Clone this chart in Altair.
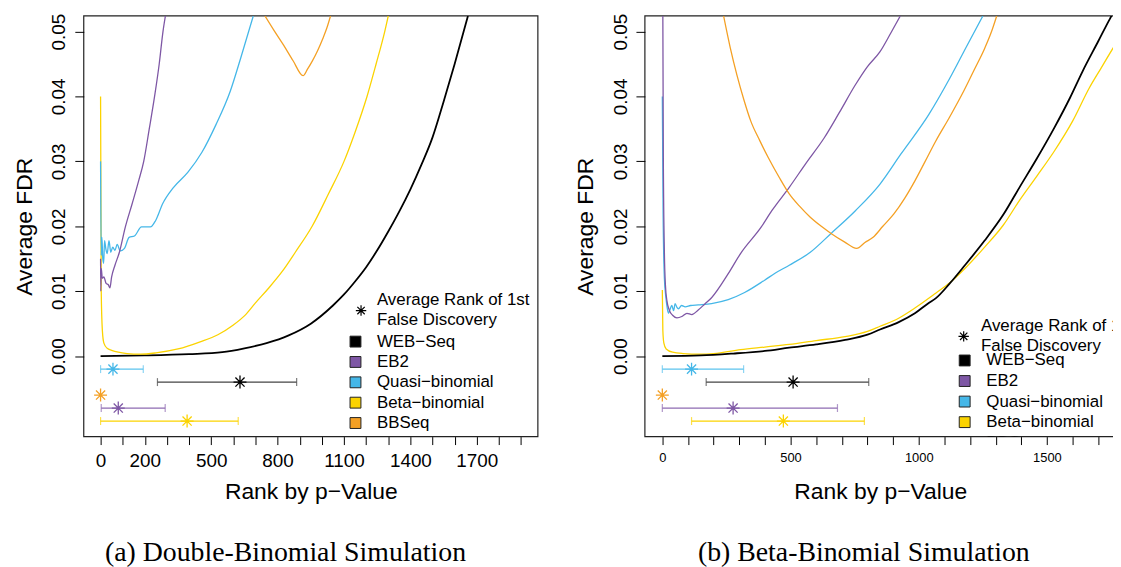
import altair as alt
import pandas as pd

FONT = "Liberation Sans"
SERIF = "Liberation Serif"

methods = ["WEB−Seq", "EB2", "Quasi−binomial", "Beta−binomial", "BBSeq"]
colors = ["#000000", "#7E57A5", "#45B7E8", "#FBD300", "#F4A024"]
bar_colors = ["#444444", "#8E6BB2", "#5BC3EE", "#FBD300", "#F4A024"]

# ---------------- panel (a): Double-Binomial Simulation ----------------
a_web_x = [0, 200, 400, 550, 650, 750, 850, 950, 1050, 1100, 1150, 1200, 1250, 1300, 1350, 1400, 1450, 1500, 1550, 1600, 1660]
a_web_y = [0, 0.0001, 0.0003, 0.0006, 0.0012, 0.0020, 0.0032, 0.0050, 0.0078, 0.0095, 0.0115, 0.0137, 0.0163, 0.0192, 0.0223, 0.0257, 0.0295, 0.0337, 0.0392, 0.0450, 0.0524]
a_eb2_x = [0, 1, 3, 8, 15, 25, 35, 42, 50, 65, 85, 112, 142, 172, 195, 220, 244, 265, 282, 293]
a_eb2_y = [0.015, 0.010, 0.0135, 0.0120, 0.0122, 0.0112, 0.0110, 0.0105, 0.0122, 0.0140, 0.0160, 0.0199, 0.0234, 0.0270, 0.0300, 0.0350, 0.0400, 0.0450, 0.0500, 0.0524]
a_qb_x = [0, 3, 6, 10, 14, 18, 24, 30, 38, 46, 55, 65, 75, 89, 108, 129, 153, 185, 225, 249, 281, 330, 394, 458, 522, 586, 634, 690]
a_qb_y = [0.030, 0.0155, 0.0183, 0.0150, 0.0143, 0.0178, 0.0165, 0.0158, 0.0178, 0.0160, 0.0168, 0.0163, 0.0172, 0.0162, 0.0166, 0.0183, 0.0185, 0.0199, 0.0199, 0.0209, 0.0235, 0.0260, 0.0283, 0.0314, 0.0357, 0.0408, 0.0460, 0.0524]
a_bb_x = [0, 3, 8, 15, 30, 50, 80, 120, 180, 250, 350, 450, 530, 600, 650, 700, 760, 820, 880, 956, 1030, 1100, 1150, 1204, 1245, 1284, 1300]
a_bb_y = [0.040, 0.010, 0.004, 0.002, 0.0012, 0.0009, 0.0006, 0.0004, 0.0003, 0.0005, 0.0011, 0.0022, 0.0033, 0.0048, 0.0062, 0.0082, 0.0105, 0.0130, 0.0160, 0.0200, 0.0250, 0.0300, 0.0345, 0.0400, 0.0450, 0.0500, 0.0524]
a_bbseq_x = [743, 785, 827, 870, 915, 935, 956, 980, 1004, 1022, 1039]
a_bbseq_y = [0.0524, 0.0501, 0.0479, 0.0455, 0.0432, 0.0442, 0.0454, 0.0470, 0.0489, 0.0505, 0.0524]

# error-bar rows (order of rows top to bottom)
row_methods = ["Quasi−binomial", "WEB−Seq", "BBSeq", "EB2", "Beta−binomial"]
row_y = [-0.002, -0.004, -0.006, -0.008, -0.010]
a_star = [56, 630, 0, 80, 391]
a_lo = [0, 257, 0, 3, 0]
a_hi = [193, 886, 0, 292, 622]

# ---------------- panel (b): Beta-Binomial Simulation ----------------
b_web_x = [0, 150, 277, 400, 495, 600, 713, 800, 849, 920, 985, 1039, 1066, 1121, 1180, 1257, 1330, 1393, 1460, 1529, 1590, 1638, 1700, 1746, 1768]
b_web_y = [0, 0.0001, 0.0004, 0.0008, 0.0013, 0.0018, 0.0025, 0.0033, 0.0041, 0.0052, 0.0066, 0.0082, 0.0089, 0.0112, 0.0140, 0.0178, 0.0218, 0.0260, 0.0304, 0.0352, 0.0398, 0.0438, 0.0485, 0.0520, 0.0535]
b_eb2_x = [2, 4, 8, 12, 18, 28, 40, 57, 76, 96, 115, 140, 165, 192, 257, 305, 386, 427, 495, 560, 631, 690, 753, 800, 849, 890, 928]
b_eb2_y = [0.0524, 0.030, 0.016, 0.011, 0.0085, 0.0070, 0.0063, 0.0059, 0.0061, 0.0066, 0.0064, 0.0071, 0.0080, 0.0090, 0.0127, 0.0158, 0.0199, 0.0224, 0.0260, 0.0297, 0.0336, 0.0375, 0.0418, 0.0446, 0.0469, 0.0497, 0.0524]
b_qb_x = [0, 3, 8, 14, 20, 24, 30, 37, 44, 50, 57, 63, 75, 89, 110, 140, 192, 257, 321, 399, 441, 495, 577, 658, 753, 849, 930, 1039, 1121, 1189, 1250]
b_qb_y = [0.040, 0.022, 0.012, 0.009, 0.0072, 0.0066, 0.0072, 0.0078, 0.0070, 0.0081, 0.0075, 0.0073, 0.0078, 0.0076, 0.0078, 0.0079, 0.0081, 0.0087, 0.0098, 0.0117, 0.0128, 0.0140, 0.0160, 0.0189, 0.0224, 0.0265, 0.0311, 0.0372, 0.0428, 0.0479, 0.0524]
b_bb_x = [0, 2, 6, 15, 40, 80, 150, 200, 305, 400, 495, 600, 713, 800, 849, 920, 985, 1039, 1066, 1121, 1180, 1257, 1330, 1393, 1460, 1529, 1600, 1665, 1710, 1757, 1790]
b_bb_y = [0.0102, 0.004, 0.002, 0.0011, 0.0006, 0.0004, 0.0003, 0.0004, 0.0010, 0.0014, 0.0018, 0.0024, 0.0030, 0.0038, 0.0046, 0.0058, 0.0074, 0.0089, 0.0097, 0.0113, 0.0135, 0.0168, 0.0202, 0.0240, 0.0277, 0.0316, 0.0362, 0.0413, 0.0443, 0.0474, 0.0495]
b_bbseq_x = [239, 265, 291, 318, 345, 380, 413, 455, 495, 535, 577, 620, 658, 710, 758, 790, 822, 860, 903, 945, 985, 1025, 1066, 1120, 1175, 1215, 1257, 1282, 1304]
b_bbseq_y = [0.0524, 0.0475, 0.0433, 0.0395, 0.0362, 0.0332, 0.0306, 0.0276, 0.0250, 0.0231, 0.0214, 0.0200, 0.0189, 0.0176, 0.0166, 0.0175, 0.0183, 0.0200, 0.0219, 0.0243, 0.0270, 0.0300, 0.0331, 0.0368, 0.0408, 0.0440, 0.0474, 0.0498, 0.0524]

b_star = [114, 510, 0, 276, 472]
b_lo = [0, 171, 0, 0, 114]
b_hi = [317, 805, 0, 683, 788]

# ---------------- layout constants (pixels) ----------------
PLOT_W_A = 457.4
PLOT_H = 423.7
RIGHT_X0 = 565.2
RIGHT_W = 474.2
W = 1036.7
YDOM = [-0.0124, 0.0524]
STAR = "M-1,0L1,0M0,-1L0,1M-0.707,-0.707L0.707,0.707M-0.707,0.707L0.707,-0.707"
cscale = alt.Scale(domain=methods, range=colors)
bscale = alt.Scale(domain=methods, range=bar_colors)


def lines_df(series):
    rows = []
    for m, xs, ys in series:
        for i, (x, y) in enumerate(zip(xs, ys)):
            rows.append({"method": m, "x": x, "y": y, "i": i})
    return pd.DataFrame(rows)


def panel(series, star, lo, hi, xdom, xrng, xticks, xlabels, xlab_size,
          yoffset, leg, caption, cap_x, clip_legend):
    xs = alt.Scale(domain=xdom, range=xrng, nice=False, zero=False)
    ys = alt.Scale(domain=YDOM, nice=False, zero=False)
    left = xrng[0]
    mid = (xrng[0] + xrng[1]) / 2
    lab_expr = "indexof(" + str(xlabels) + ", datum.value) >= 0 ? datum.label : ''"
    xaxis = alt.Axis(orient="bottom", values=xticks, labelExpr=lab_expr, format="d", domain=False, grid=False,
                     tickSize=8, tickColor="black", zindex=1,
                     labelFont=FONT, labelFontSize=xlab_size, labelColor="black", labelPadding=7,
                     labelOverlap=False,
                     title="Rank by p−Value", titleFont=FONT, titleFontSize=23, titleFontWeight="normal",
                     titleColor="black", titleX=mid, titleY=62, titleAlign="center", titleBaseline="alphabetic")
    yaxis = alt.Axis(orient="left", offset=yoffset, values=[0, 0.01, 0.02, 0.03, 0.04, 0.05], format=".2f",
                     domain=False, grid=False, tickSize=9, tickColor="black", zindex=1,
                     labelAngle=270, labelAlign="center", labelBaseline="alphabetic", labelPadding=10,
                     labelFont=FONT, labelFontSize=19, labelColor="black", labelOverlap=False,
                     title="Average FDR", titleFont=FONT, titleFontSize=23, titleFontWeight="normal",
                     titleColor="black", titleAngle=270, titleX=-53, titleY=PLOT_H / 2,
                     titleAlign="center", titleBaseline="alphabetic")

    ldf = lines_df(series)
    lines = alt.Chart(ldf).mark_line(clip=True, interpolate="monotone").encode(
        x=alt.X("x:Q", scale=xs, axis=xaxis),
        y=alt.Y("y:Q", scale=ys, axis=yaxis),
        color=alt.Color("method:N", scale=cscale, legend=None),
        detail="method:N",
        order="i:Q",
        strokeWidth=alt.condition(alt.datum.method == "WEB−Seq", alt.value(1.8), alt.value(1.3)),
    )

    bdf = pd.DataFrame({"method": row_methods, "row": row_y, "star": star, "lo": lo, "hi": hi})
    base_b = alt.Chart(bdf)
    bars = base_b.transform_filter("datum.hi > datum.lo").mark_rule(strokeWidth=1.2).encode(
        x=alt.X("lo:Q", scale=xs, axis=None), x2="hi:Q",
        y=alt.Y("row:Q", scale=ys, axis=None),
        color=alt.Color("method:N", scale=bscale, legend=None))
    cap_lo = base_b.transform_filter("datum.hi > datum.lo").mark_tick(orient="vertical", size=8, thickness=1.2).encode(
        x=alt.X("lo:Q", scale=xs, axis=None), y=alt.Y("row:Q", scale=ys, axis=None),
        color=alt.Color("method:N", scale=bscale, legend=None))
    cap_hi = base_b.transform_filter("datum.hi > datum.lo").mark_tick(orient="vertical", size=8, thickness=1.2).encode(
        x=alt.X("hi:Q", scale=xs, axis=None), y=alt.Y("row:Q", scale=ys, axis=None),
        color=alt.Color("method:N", scale=bscale, legend=None))
    stars = base_b.mark_point(shape=STAR, size=170, filled=False, strokeWidth=1.3, opacity=1).encode(
        x=alt.X("star:Q", scale=xs, axis=None), y=alt.Y("row:Q", scale=ys, axis=None),
        color=alt.Color("method:N", scale=cscale, legend=None))

    one = pd.DataFrame({"k": [0]})
    box = alt.Chart(one).mark_rect(filled=False, stroke="#222", strokeWidth=1.2).encode(
        x=alt.value(left), x2=alt.value(xrng[1]), y=alt.value(0), y2=alt.value(PLOT_H))

    # legend drawn inside the plot as in the original
    sx, sy, tx, t1, t2, qx, qy0, dy, itx = leg
    leg_star = alt.Chart(one).mark_point(shape=STAR, size=110, filled=False, strokeWidth=1.2,
                                         color="black", opacity=1).encode(
        x=alt.value(sx), y=alt.value(sy))
    leg_t1 = alt.Chart(one).mark_text(text="Average Rank of 1st", font=FONT, fontSize=17, align="left",
                                      baseline="middle", color="black").encode(x=alt.value(tx), y=alt.value(t1))
    leg_t2 = alt.Chart(one).mark_text(text="False Discovery", font=FONT, fontSize=17, align="left",
                                      baseline="middle", color="black").encode(x=alt.value(tx), y=alt.value(t2))
    items = []
    for k, m in enumerate(methods):
        yv = qy0 + dy * k
        items.append(alt.Chart(one).mark_square(size=120, filled=True, stroke="#222", strokeWidth=1,
                                                color=colors[k], opacity=1, clip=clip_legend).encode(
            x=alt.value(qx), y=alt.value(yv)))
        items.append(alt.Chart(one).mark_text(text=m, font=FONT, fontSize=17, align="left", baseline="middle",
                                              color="black", clip=clip_legend).encode(
            x=alt.value(itx), y=alt.value(yv)))
    cap = alt.Chart(one).mark_text(text=caption, font=SERIF, fontSize=28, align="center",
                                   baseline="alphabetic", color="black").encode(
        x=alt.value(cap_x), y=alt.value(549))
    return [box, lines, bars, cap_lo, cap_hi, stars, leg_star, leg_t1, leg_t2] + items + [cap]


ticks_a = list(range(0, 2000, 100))
labels_a = [0, 200, 500, 800, 1100, 1400, 1700]
ticks_b = list(range(0, 1800, 100))
labels_b = [0, 500, 1000, 1500]

layers_a = panel(
    [("WEB−Seq", a_web_x, a_web_y), ("Beta−binomial", a_bb_x, a_bb_y), ("Quasi−binomial", a_qb_x, a_qb_y),
     ("EB2", a_eb2_x, a_eb2_y), ("BBSeq", a_bbseq_x, a_bbseq_y)],
    a_star, a_lo, a_hi, [-76, 1976], [0, PLOT_W_A], ticks_a, labels_a, 19, 0,
    (279.3, 296.7, 295.3, 286, 306, 273.7, 328, 20.5, 295.3),
    "(a) Double-Binomial Simulation", 203.2, False)

layers_b = panel(
    [("Beta−binomial", b_bb_x, b_bb_y), ("WEB−Seq", b_web_x, b_web_y), ("Quasi−binomial", b_qb_x, b_qb_y),
     ("EB2", b_eb2_x, b_eb2_y), ("BBSeq", b_bbseq_x, b_bbseq_y)],
    b_star, b_lo, b_hi, [-68, 1768], [RIGHT_X0, RIGHT_X0 + RIGHT_W], ticks_b, labels_b, 13, -RIGHT_X0,
    (886.3, 322.7, 903.7, 312.7, 332.7, 887.3, 347, 20.7, 909.1),
    "(b) Beta-Binomial Simulation", 785.7, True)

chart = alt.layer(*layers_a, *layers_b).resolve_scale(
    x="independent", y="independent", color="independent"
).resolve_axis(x="independent", y="independent").properties(
    width=W, height=PLOT_H,
    autosize=alt.AutoSizeParams(type="none"),
    padding={"left": 76.3, "top": 6, "right": 0, "bottom": 129.3},
    background="white",
).configure_view(stroke=None)

chart.save("out.html", embed_options={"renderer": "svg", "actions": False})
